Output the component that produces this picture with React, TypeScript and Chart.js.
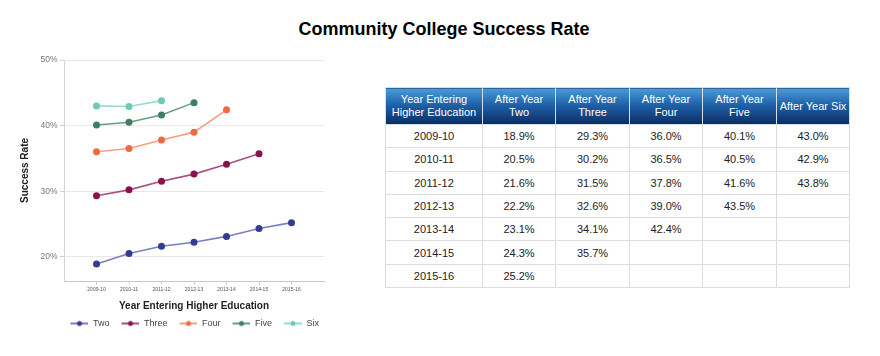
import React, { useEffect, useRef } from "react";
import { Chart, registerables } from "chart.js";

Chart.register(...registerables);

const FONT = "'Liberation Sans', Arial, sans-serif";

const chartTitle = "Community College Success Rate";
const xAxisTitle = "Year Entering Higher Education";
const yAxisTitle = "Success Rate";

const years = ["2009-10", "2010-11", "2011-12", "2012-13", "2013-14", "2014-15", "2015-16"];

const seriesNames = ["Two", "Three", "Four", "Five", "Six"];
const afterTwo = [18.9, 20.5, 21.6, 22.2, 23.1, 24.3, 25.2];
const afterThree = [29.3, 30.2, 31.5, 32.6, 34.1, 35.7];
const afterFour = [36.0, 36.5, 37.8, 39.0, 42.4];
const afterFive = [40.1, 40.5, 41.6, 43.5];
const afterSix = [43.0, 42.9, 43.8];
const seriesValues = [afterTwo, afterThree, afterFour, afterFive, afterSix];

const pointColors = ["#353a92", "#8a1150", "#f06a3f", "#3f7e5e", "#6acbb8"];
const lineColors = ["#7a7ec4", "#a8507f", "#f4a080", "#6c9c86", "#9bdacd"];

const yTicks = [20, 30, 40, 50];
const yMin = 16.3;
const yMax = 50;

const tableHeaders = [
  ["Year Entering", "Higher Education"],
  ["After Year", "Two"],
  ["After Year", "Three"],
  ["After Year", "Four"],
  ["After Year", "Five"],
  ["After Year Six"],
];
const colWidths = [97, 73, 74, 73, 74, 73];

function makeSymbol(lineColor: string, pointColor: string) {
  const c = document.createElement("canvas");
  c.width = 25;
  c.height = 8;
  const ctx = c.getContext("2d")!;
  ctx.strokeStyle = lineColor;
  ctx.lineWidth = 2;
  ctx.beginPath();
  ctx.moveTo(7, 4);
  ctx.lineTo(25, 4);
  ctx.stroke();
  ctx.fillStyle = pointColor;
  ctx.beginPath();
  ctx.arc(16, 4, 2.5, 0, Math.PI * 2);
  ctx.fill();
  return c;
}

function LineChart() {
  const ref = useRef<HTMLCanvasElement | null>(null);
  useEffect(() => {
    if (!ref.current) return;
    const labels = ["", ...years, ""];
    const datasets = seriesNames.map((name, i) => {
      const vals = seriesValues[i];
      const data: (number | null)[] = [null, ...vals];
      while (data.length < labels.length) data.push(null);
      return {
        label: name,
        data,
        borderColor: lineColors[i],
        backgroundColor: pointColors[i],
        pointBackgroundColor: pointColors[i],
        pointBorderColor: pointColors[i],
        pointRadius: 3.5,
        pointBorderWidth: 0,
        borderWidth: 1.6,
        tension: 0,
      };
    });
    const symbols = seriesNames.map((_, i) => makeSymbol(lineColors[i], pointColors[i]));
    const chart = new Chart(ref.current, {
      type: "line",
      data: { labels, datasets },
      options: {
        responsive: false,
        animation: false,
        devicePixelRatio: 1,
        layout: { padding: { left: 15, right: 16, top: 20, bottom: 2 } },
        plugins: {
          tooltip: { enabled: false },
          legend: {
            position: "bottom",
            align: "end",
            labels: {
              usePointStyle: true,
              pointStyleWidth: 25,
              boxHeight: 8,
              padding: 5,
              color: "#444",
              font: { family: FONT, size: 9 },
              generateLabels: (ch: any) =>
                ch.data.datasets.map((ds: any, i: number) => ({
                  text: ds.label,
                  pointStyle: symbols[i],
                  fillStyle: pointColors[i],
                  strokeStyle: "rgba(0,0,0,0)",
                  lineWidth: 0,
                  hidden: false,
                  datasetIndex: i,
                  fontColor: "#444",
                })),
            },
          },
        },
        scales: {
          x: {
            type: "category",
            grid: {
              drawOnChartArea: false,
              drawTicks: true,
              tickLength: 4,
              tickColor: (ctx: any) =>
                ctx.index === 0 || ctx.index === labels.length - 1 ? "rgba(0,0,0,0)" : "#d0d0d0",
            },
            border: { color: "#c8c8c8" },
            ticks: {
              autoSkip: false,
              maxRotation: 0,
              padding: 2,
              color: "#555",
              font: { family: FONT, size: 5 },
            },
            title: {
              display: true,
              text: xAxisTitle,
              color: "#222",
              font: { family: FONT, size: 10, weight: "bold" },
              padding: { top: 5, bottom: 2 },
            },
          },
          y: {
            min: yMin,
            max: yMax,
            afterBuildTicks: (scale: any) => {
              scale.ticks = yTicks.map((v) => ({ value: v }));
            },
            grid: { color: "#e8e8e8", tickLength: 4, tickColor: "#d0d0d0" },
            border: { color: "#d4d4d4" },
            ticks: {
              padding: 2.5,
              color: "#777",
              font: { family: FONT, size: 8.5 },
              callback: (v: any) => v + "%",
            },
            title: {
              display: true,
              text: yAxisTitle,
              color: "#222",
              font: { family: FONT, size: 10, weight: "bold" },
              padding: { top: 4, bottom: 7 },
            },
          },
        },
      } as any,
    });
    return () => chart.destroy();
  }, []);
  return (
    <canvas
      ref={ref}
      width={340}
      height={300}
      style={{ position: "absolute", left: 0, top: 40, width: 340, height: 300 }}
    />
  );
}

function cellText(v: number | undefined) {
  return v === undefined ? "" : v.toFixed(1) + "%";
}

function DataTable() {
  const border = "1px solid #dcdcdc";
  return (
    <table
      style={{
        position: "absolute",
        left: 385,
        top: 87,
        borderCollapse: "collapse",
        fontFamily: FONT,
        fontSize: 11,
        tableLayout: "fixed",
        width: colWidths.reduce((a, b) => a + b, 0),
      }}
    >
      <colgroup>
        {colWidths.map((w, i) => (
          <col key={i} style={{ width: w }} />
        ))}
      </colgroup>
      <thead>
        <tr style={{ height: 37 }}>
          {tableHeaders.map((lines, i) => (
            <th
              key={i}
              style={{
                background: "linear-gradient(to bottom, #4a9bd8 0%, #1f62aa 45%, #0b2c62 100%)",
                color: "#fff",
                fontWeight: "normal",
                border: "1px solid #d8dee6",
                padding: 0,
                lineHeight: "13px",
                textAlign: "center",
                whiteSpace: "nowrap",
              }}
            >
              {lines.map((l, j) => (
                <div key={j}>{l}</div>
              ))}
            </th>
          ))}
        </tr>
      </thead>
      <tbody>
        {years.map((yr, r) => (
          <tr key={yr} style={{ height: 23.3 }}>
            <td style={{ border, textAlign: "center", color: "#222", padding: 0 }}>{yr}</td>
            {seriesValues.map((vals, c) => (
              <td key={c} style={{ border, textAlign: "center", color: "#222", padding: 0 }}>
                {cellText(vals[r])}
              </td>
            ))}
          </tr>
        ))}
      </tbody>
    </table>
  );
}

export default function App() {
  return (
    <div style={{ position: "absolute", left: 0, top: 0, width: 880, height: 356, background: "#fff" }}>
      <div
        style={{
          position: "absolute",
          left: 0,
          width: 888,
          top: 19,
          textAlign: "center",
          fontFamily: FONT,
          fontWeight: "bold",
          fontSize: 18,
          lineHeight: "20px",
          color: "#000",
        }}
      >
        {chartTitle}
      </div>
      <LineChart />
      <DataTable />
    </div>
  );
}
